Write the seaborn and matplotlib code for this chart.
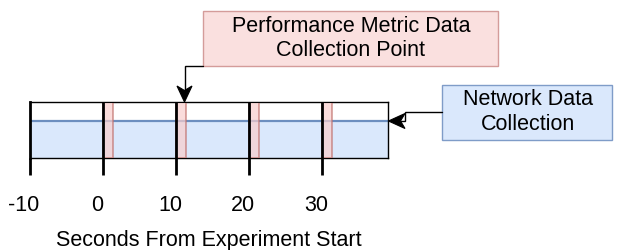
import matplotlib
matplotlib.use("Agg")
import matplotlib.pyplot as plt
from matplotlib.patches import Rectangle, Polygon
from matplotlib.transforms import ScaledTranslation
import seaborn as sns
import pandas as pd

# ---- data ----
tick_values = [-10, 0, 10, 20, 30]
tick_labels = ["-10", "0", "10", "20", "30"]
network_start = -10
network_end = 39
network_level = 0.667
perf_points = [0, 10, 20, 30]
perf_duration = 1.4
x_label = "Seconds From Experiment Start"
perf_box_text = "Performance Metric Data\nCollection Point"
net_box_text = "Network Data\nCollection"

sns.set_theme(style="white")
plt.rcParams["font.family"] = ["Liberation Sans", "DejaVu Sans"]
FS = 15.5

W, H = 618, 251
fig = plt.figure(figsize=(W / 100, H / 100), dpi=100)

# timeline axes: px 30..388 horizontally, 103.5..159 vertically
ax = fig.add_axes([30 / W, (H - 159) / H, 358 / W, 55.5 / H])
ax.set_xlim(network_start, network_end)
ax.set_ylim(0, 1)

net_df = pd.DataFrame({"t": [network_start, network_end],
                       "level": [network_level, network_level]})
ax.fill_between(net_df["t"], 0, net_df["level"], color="#dae8fc", lw=0, zorder=1)
sns.lineplot(data=net_df, x="t", y="level", ax=ax, color="#6c8ebf", lw=1.6, zorder=2)

ax.bar(perf_points, 1, width=perf_duration, align="edge", bottom=0,
       color="#f8cecc", alpha=0.7, edgecolor="#c0706c", linewidth=1.2, zorder=3)
ax.vlines(perf_points, 0, 1, color="black", lw=2.0, zorder=4)

ax.set_xticks(tick_values)
ax.set_xticklabels(tick_labels)
ax.set_yticks([])
ax.tick_params(axis="x", direction="out", length=12.2, width=2.0, color="black",
               labelsize=FS, pad=14, bottom=True, labelcolor="black")
shift = ScaledTranslation(-6 / 100, 0, fig.dpi_scale_trans)
for lab in ax.get_xticklabels():
    lab.set_transform(lab.get_transform() + shift)
for side in ["top", "right", "bottom"]:
    ax.spines[side].set_color("black")
    ax.spines[side].set_linewidth(1.0)
ax.spines["left"].set_color("black")
ax.spines["left"].set_linewidth(2.0)
ax.set_xlabel(x_label, fontsize=FS, labelpad=9.5, color="black")
ax.set_ylabel("")

# overlay in pixel coordinates for the annotation boxes
ov = fig.add_axes([0, 0, 1, 1], zorder=10)
ov.set_xlim(0, W)
ov.set_ylim(H, 0)
ov.axis("off")
ov.patch.set_alpha(0)

ov.add_patch(Rectangle((203, 12), 295, 54.5, facecolor="#fae0df",
                       edgecolor="#d49c9a", lw=1.0))
ov.text(351, 38.5, perf_box_text, ha="center", va="center", fontsize=FS,
        linespacing=1.2, color="black")
ov.add_patch(Rectangle((441.5, 85.5), 170.5, 55.5, facecolor="#dae8fc",
                       edgecolor="#7f9cc8", lw=1.0))
ov.text(528, 112, net_box_text, ha="center", va="center", fontsize=FS,
        linespacing=1.2, color="black")

# connector 1
ov.plot([203, 184.5, 184.5], [66.5, 66.5, 92], color="black", lw=1.0,
        solid_joinstyle="miter")
ov.add_patch(Polygon([(184.5, 103), (177, 87), (184.5, 91.5), (192, 87)],
                     closed=True, facecolor="black", edgecolor="black", lw=0.8))
# connector 2
ov.plot([441.5, 405, 405, 400], [113, 113, 122, 122], color="black", lw=1.0,
        solid_joinstyle="miter")
ov.add_patch(Polygon([(388.5, 122), (405, 114.5), (400.5, 122), (405, 129.5)],
                     closed=True, facecolor="black", edgecolor="black", lw=0.8))

fig.savefig("out.png", dpi=100)
